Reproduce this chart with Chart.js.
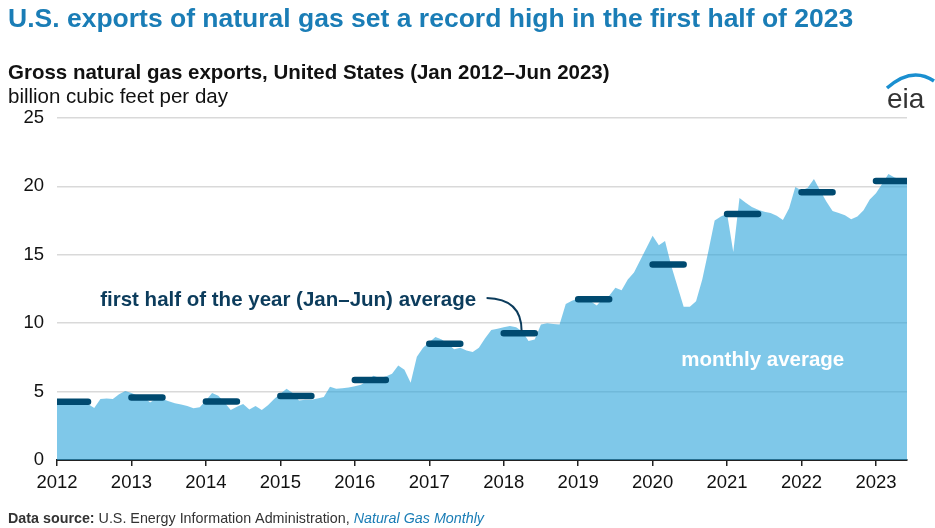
<!DOCTYPE html>
<html>
<head>
<meta charset="utf-8">
<title>U.S. natural gas exports</title>
<script src="https://cdn.jsdelivr.net/npm/chart.js@4.4.0/dist/chart.umd.min.js"></script>
<style>
  html, body { margin: 0; padding: 0; background: #fff; }
  #wrap { width: 935px; height: 528px; }
</style>
</head>
<body>
<div id="wrap"><canvas id="gasChart" width="935" height="528"></canvas></div>
<script>
// monthly data starts Jan 2012, ends Jun 2023
const startYear = 2012;
const yearTicks = [2012, 2013, 2014, 2015, 2016, 2017, 2018, 2019, 2020, 2021, 2022, 2023];

// gross exports, billion cubic feet per day
const monthlyExports = [
    4.3, 4.2, 4.4, 4.3, 4.2, 4.1, 3.8, 4.45, 4.5, 4.45, 4.8, 5.05,          // 2012
    4.9, 4.7, 4.6, 4.2, 4.5, 4.45, 4.3, 4.15, 4.05, 3.95, 3.78, 3.85,       // 2013
    4.35, 4.9, 4.7, 4.2, 3.65, 3.9, 4.1, 3.7, 3.95, 3.65, 4.0, 4.45,        // 2014
    4.85, 5.2, 4.9, 4.35, 4.4, 4.4, 4.5, 4.6, 5.35, 5.2, 5.25, 5.3,         // 2015
    5.4, 5.5, 5.8, 6.15, 6.0, 6.1, 6.3, 6.9, 6.6, 5.65, 7.55, 8.2,          // 2016
    8.6, 9.0, 8.8, 8.5, 8.1, 8.2, 8.0, 7.9, 8.2, 8.9, 9.5, 9.6,             // 2017
    9.7, 9.8, 9.7, 9.4, 8.7, 8.8, 9.9, 10.0, 9.95, 9.9, 11.4, 11.65,        // 2018
    11.8, 11.8, 11.6, 11.3, 11.8, 12.0, 12.6, 12.4, 13.2, 13.7, 14.6, 15.5, // 2019
    16.4, 15.7, 16.0, 14.2, 12.7, 11.2, 11.2, 11.6, 13.2, 15.3, 17.5, 17.8, // 2020
    18.0, 15.2, 19.15, 18.8, 18.5, 18.3, 18.15, 18.05, 17.85, 17.55, 18.4, 19.95, // 2021
    19.7, 19.9, 20.55, 19.7, 18.9, 18.2, 18.05, 17.9, 17.6, 17.8, 18.25, 19.05,   // 2022
    19.5, 20.2, 20.9, 20.65, 20.5, 20.35                                     // 2023
];

// first half of the year (Jan-Jun) averages
const firstHalfYears = [2012, 2013, 2014, 2015, 2016, 2017, 2018, 2019, 2020, 2021, 2022, 2023];
const firstHalfAverage = [4.26, 4.57, 4.27, 4.68, 5.85, 8.5, 9.26, 11.75, 14.3, 17.98, 19.57, 20.4];

const FONT = '"Liberation Sans", Arial, Helvetica, sans-serif';

let areaPoints = monthlyExports.map((v, i) => ({ x: startYear + i / 12, y: v }));

let halfPoints = [];
firstHalfYears.forEach((yr, i) => {
    halfPoints.push({ x: yr, y: firstHalfAverage[i] });
    halfPoints.push({ x: yr + 5 / 12, y: firstHalfAverage[i] });
    halfPoints.push({ x: yr + 5.5 / 12, y: null }); // break between years
});

// titles, logo and source line
const headerPlugin = {
    id: 'header',
    afterDraw(chart) {
        const ctx = chart.ctx;
        ctx.save();
        ctx.textBaseline = 'alphabetic';
        ctx.textAlign = 'left';

        ctx.fillStyle = '#1a7db6';
        ctx.font = 'bold 26.5px ' + FONT;
        ctx.fillText('U.S. exports of natural gas set a record high in the first half of 2023', 8, 27, 848);

        ctx.fillStyle = '#111';
        ctx.font = 'bold 20.5px ' + FONT;
        ctx.fillText('Gross natural gas exports, United States (Jan 2012\u2013Jun 2023)', 8, 79, 605);
        ctx.font = '20.5px ' + FONT;
        ctx.fillText('billion cubic feet per day', 8, 103, 221);

        // eia logo
        ctx.strokeStyle = '#1a8fd0';
        ctx.lineWidth = 3.5;
        ctx.beginPath();
        ctx.moveTo(887, 88);
        ctx.quadraticCurveTo(912, 66, 934, 81);
        ctx.stroke();
        ctx.fillStyle = '#333';
        ctx.font = '28px ' + FONT;
        ctx.fillText('eia', 887, 108);

        // source
        let sx = 8;
        const sy = 523;
        ctx.fillStyle = '#333';
        ctx.font = 'bold 14.3px ' + FONT;
        ctx.fillText('Data source:', sx, sy);
        sx += ctx.measureText('Data source: ').width;
        ctx.font = '14.3px ' + FONT;
        const src = 'U.S. Energy Information Administration, ';
        ctx.fillText(src, sx, sy);
        sx += ctx.measureText(src).width;
        ctx.fillStyle = '#1a7db6';
        ctx.font = 'italic 14.3px ' + FONT;
        ctx.fillText('Natural Gas Monthly', sx, sy);
        ctx.restore();
    }
};

// labels inside the plot
const notesPlugin = {
    id: 'notes',
    afterDatasetsDraw(chart) {
        const { ctx, scales: { x, y } } = chart;
        ctx.save();
        ctx.fillStyle = '#0c3c5c';
        ctx.font = 'bold 20.5px ' + FONT;
        ctx.textBaseline = 'middle';
        ctx.textAlign = 'left';
        ctx.fillText('first half of the year (Jan\u2013Jun) average', x.getPixelForValue(2012.58), y.getPixelForValue(11.7), 382);

        // connector to the 2018 average
        ctx.strokeStyle = '#0c3c5c';
        ctx.lineWidth = 2;
        ctx.beginPath();
        ctx.moveTo(x.getPixelForValue(2017.77), y.getPixelForValue(11.85));
        ctx.quadraticCurveTo(x.getPixelForValue(2018.24), y.getPixelForValue(11.8),
            x.getPixelForValue(2018.24), y.getPixelForValue(9.45));
        ctx.stroke();

        ctx.fillStyle = '#ffffff';
        ctx.font = 'bold 20.5px ' + FONT;
        ctx.textAlign = 'center';
        ctx.fillText('monthly average', x.getPixelForValue(2021.48), y.getPixelForValue(7.3));
        ctx.restore();
    }
};

const config = {
    type: 'line',
    data: {
        datasets: [{
                label: 'first half average',
                data: halfPoints,
                borderColor: '#004a70',
                borderWidth: 6.5,
                borderCapStyle: 'round',
                pointRadius: 0,
                fill: false,
                spanGaps: false,
                order: 0
            },
            {
                label: 'monthly average',
                data: areaPoints,
                backgroundColor: 'rgba(42, 163, 218, 0.6)',
                borderColor: 'rgba(0,0,0,0)',
                borderWidth: 0,
                pointRadius: 0,
                tension: 0,
                fill: 'origin',
                order: 1
            }
        ]
    },
    options: {
        responsive: false,
        animation: false,
        layout: {
            padding: { top: 118, right: 28, left: 0, bottom: 0 }
        },
        plugins: {
            legend: { display: false },
            tooltip: { enabled: false }
        },
        scales: {
            x: {
                type: 'linear',
                min: startYear,
                max: startYear + (monthlyExports.length - 1) / 12,
                afterBuildTicks: (scale) => {
                    scale.ticks = yearTicks.map(v => ({ value: v }));
                },
                afterFit: (scale) => { scale.height = 68; },
                grid: {
                    drawOnChartArea: false,
                    drawTicks: true,
                    tickLength: 6,
                    color: '#222',
                    lineWidth: 1.5
                },
                border: { display: true, color: '#222', width: 2 },
                ticks: {
                    autoSkip: false,
                    maxRotation: 0,
                    padding: 6,
                    color: '#111',
                    font: { family: FONT, size: 18.5 },
                    callback: (v) => String(v)
                }
            },
            y: {
                min: 0,
                max: 25,
                afterFit: (scale) => { scale.width = 57; },
                grid: {
                    color: '#d9d9d9',
                    lineWidth: 1.5,
                    drawTicks: false
                },
                border: { display: false },
                ticks: {
                    stepSize: 5,
                    padding: 13,
                    color: '#111',
                    font: { family: FONT, size: 18.5 }
                }
            }
        }
    },
    plugins: [notesPlugin, headerPlugin]
};

let gasChart = new Chart(
    document.getElementById('gasChart'),
    config
);
</script>
</body>
</html>
